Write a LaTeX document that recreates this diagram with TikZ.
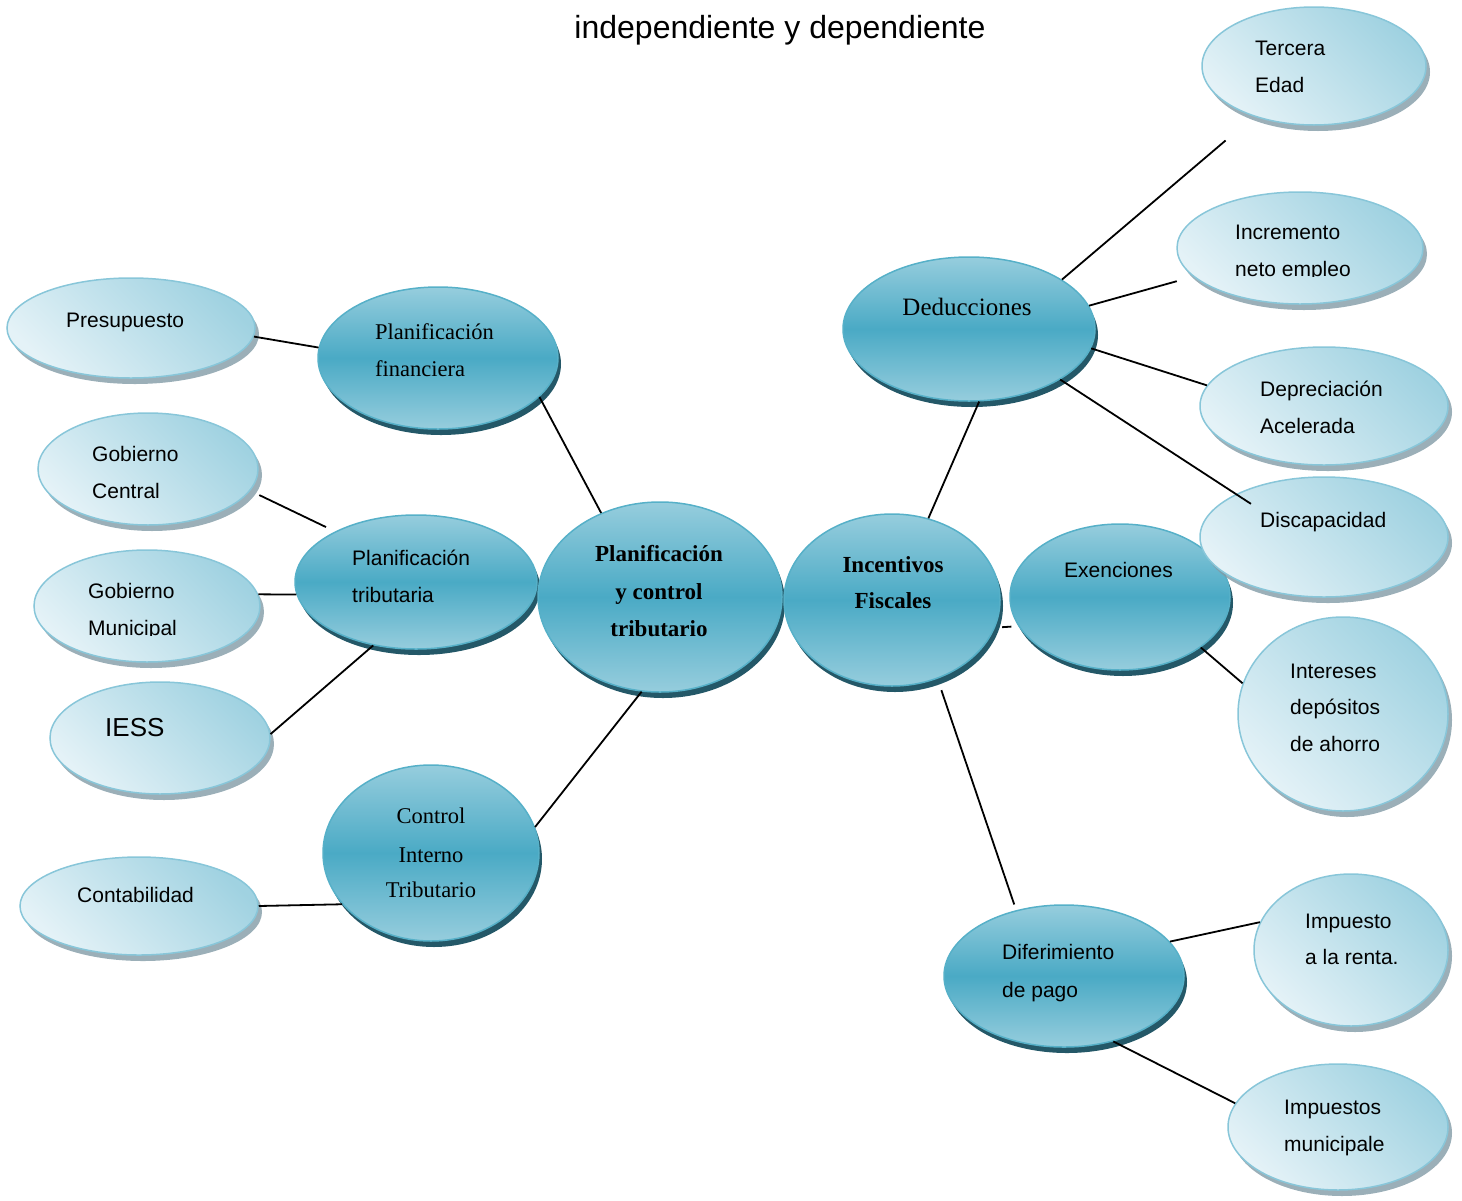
\documentclass[tikz,border=0pt]{standalone}
\usepackage{fontspec}
\setmainfont{Liberation Sans}
\newfontfamily\serifface{Liberation Serif}
\usetikzlibrary{shapes.geometric,shadows}

% bubble colours
\definecolor{hubtop}{RGB}{150,205,221}
\definecolor{hubmid}{RGB}{74,170,197}
\definecolor{hubedge}{RGB}{86,176,200}
\definecolor{hubshade}{RGB}{36,88,104}
\definecolor{leafdark}{RGB}{160,210,225}
\definecolor{leaflight}{RGB}{228,242,247}
\definecolor{leafedge}{RGB}{136,198,217}
\definecolor{leafshade}{RGB}{130,155,166}

\tikzset{
  dims/.style 2 args={minimum width=#1pt, minimum height=#2pt},
  hub/.style={ellipse, inner sep=0pt, draw=hubedge, line width=1.5pt,
    top color=hubtop, bottom color=hubtop, middle color=hubmid,
    drop shadow={shadow xshift=3pt, shadow yshift=-6pt, fill=hubshade, opacity=1}},
  leaf/.style={ellipse, inner sep=0pt, draw=leafedge, line width=1.5pt,
    top color=leafdark, bottom color=leaflight, shading angle=-45,
    drop shadow={shadow xshift=4pt, shadow yshift=-6pt, fill=leafshade, opacity=.8}},
  sans/.style={font=\fontsize{21}{21}\selectfont, anchor=base west, inner sep=0pt},
  serif/.style={font=\serifface\fontsize{22.5}{22.5}\selectfont, inner sep=0pt},
  serifb/.style={font=\serifface\bfseries\fontsize{23}{23}\selectfont, anchor=base, inner sep=0pt},
  link/.style={line width=1.8pt, black},
}

\begin{document}
\begin{tikzpicture}[x=1pt, y=-1pt]
\useasboundingbox (0,0) rectangle (1462,1200);

% title
\node[font=\fontsize{32}{32}\selectfont, anchor=base, inner sep=0pt] (title) at (780,38) {independiente y dependiente};

% main bubbles
\node[hub, dims={240}{142}] (pf)  at (438,358) {};
\node[hub, dims={242}{134}] (pt)  at (416,582) {};
\node[hub, dims={244}{190}] (pc)  at (660,597) {};
\node[hub, dims={216}{172}] (inc) at (892,600) {};
\node[hub, dims={252}{144}] (ded) at (969,329) {};
\node[hub, dims={220}{146}] (exe) at (1120,597) {};
\node[hub, dims={216}{176}] (cit) at (431,853) {};
\node[hub, dims={240}{142}] (dif) at (1064,976) {};

% outer bubbles
\node[leaf, dims={248}{100}] (pre)  at (131,328) {};
\node[leaf, dims={220}{112}] (gc)   at (148,469) {};
\node[leaf, dims={226}{112}] (gm)   at (147,606) {};
\node[leaf, dims={220}{112}] (iess) at (160,738) {};
\node[leaf, dims={238}{98}]  (con)  at (139,906) {};
\node[leaf, dims={224}{118}] (ter)  at (1314,66) {};
\node[leaf, dims={246}{112}] (incr) at (1300,248) {};
\node[leaf, dims={248}{118}] (dep)  at (1324,406) {};
\node[leaf, dims={248}{120}] (dis)  at (1324,537) {};
\node[leaf, dims={210}{194}] (int)  at (1343,714) {};
\node[leaf, dims={194}{152}] (ren)  at (1351,950) {};
\node[leaf, dims={220}{126}] (mun)  at (1338,1127) {};

% labels of the main bubbles
\node[serif, anchor=base west] (pf1) at (375,339) {Planificación};
\node[serif, anchor=base west] (pf2) at (375,376) {financiera};
\node[sans] (pt1) at (352,565) {Planificación};
\node[sans] (pt2) at (352,602) {tributaria};
\node[serifb] (pc1) at (659,561) {Planificación};
\node[serifb] (pc2) at (659,599) {y control};
\node[serifb] (pc3) at (659,636) {tributario};
\node[serifb] (inc1) at (893,572) {Incentivos};
\node[serifb] (inc2) at (893,608) {Fiscales};
\node[serif, anchor=base, font=\serifface\fontsize{25}{25}\selectfont] (ded1) at (967,315) {Deducciones};
\node[sans] (exe1) at (1064,577) {Exenciones};
\node[serif, anchor=base] (cit1) at (431,823) {Control};
\node[serif, anchor=base] (cit2) at (431,862) {Interno};
\node[serif, anchor=base] (cit3) at (431,897) {Tributario};
\node[sans] (dif1) at (1002,959) {Diferimiento};
\node[sans] (dif2) at (1002,997) {de pago};

% labels of the outer bubbles
\node[sans] (pre1) at (66,327) {Presupuesto};
\node[sans] (gc1) at (92,461) {Gobierno};
\node[sans] (gc2) at (92,498) {Central};
\node[sans] (gm1) at (88,598) {Gobierno};
\begin{scope}
  \clip (80,600) rectangle (240,635.5);
  \node[sans] (gm2) at (88,635) {Municipal};
\end{scope}
\node[sans, font=\fontsize{26}{26}\selectfont] (iess1) at (105,736) {IESS};
\node[sans] (con1) at (77,902) {Contabilidad};
\node[sans] (ter1) at (1255,55) {Tercera};
\node[sans] (ter2) at (1255,92) {Edad};
\node[sans] (incr1) at (1235,239) {Incremento};
\begin{scope}
  \clip (1225,245) rectangle (1400,276.5);
  \node[sans] (incr2) at (1235,276) {neto empleo};
\end{scope}
\node[sans] (dep1) at (1260,396) {Depreciación};
\node[sans] (dep2) at (1260,433) {Acelerada};
\node[sans] (dis1) at (1260,527) {Discapacidad};
\node[sans] (int1) at (1290,678) {Intereses};
\node[sans] (int2) at (1290,714) {depósitos};
\node[sans] (int3) at (1290,751) {de ahorro};
\node[sans] (ren1) at (1305,928) {Impuesto};
\node[sans] (ren2) at (1305,964) {a la renta.};
\node[sans] (mun1) at (1284,1114) {Impuestos};
\node[sans] (mun2) at (1284,1151) {municipale};

% connectors
\draw[link] (pre.-4) -- (pf.175);
\draw[link] (pf.-21) -- (pc.125);
\draw[link, shorten <=10pt, shorten >=10pt] (gc.-12) -- (pt.148);
\draw[link] (gm.6) -- (pt.186);
\draw[link] (iess.2) -- (pt.236);
\draw[link] (cit.14) -- (pc.259);
\draw[link] (con.east) -- (cit.210);
\draw[link] (inc.66) -- (ded.-82);
\draw[link, shorten <=7pt, shorten >=7pt] (inc.-15) -- (exe.196);
\draw[link, shorten <=12pt, shorten >=6pt] (inc.-60) -- (dif.126);
\draw[link, shorten >=37pt] (ded.28) -- (ter.220);
\draw[link, shorten >=17pt] (ded.11) -- (incr.195);
\draw[link] (ded.-9) -- (dep.170);
\draw[link, shorten >=-18pt] (ded.-29) -- (dis.154);
\draw[link] (exe.-32) -- (int.163);
\draw[link] (dif.18) -- (ren.163);
\draw[link] (dif.-53) -- (mun.167);
\end{tikzpicture}
\end{document}
